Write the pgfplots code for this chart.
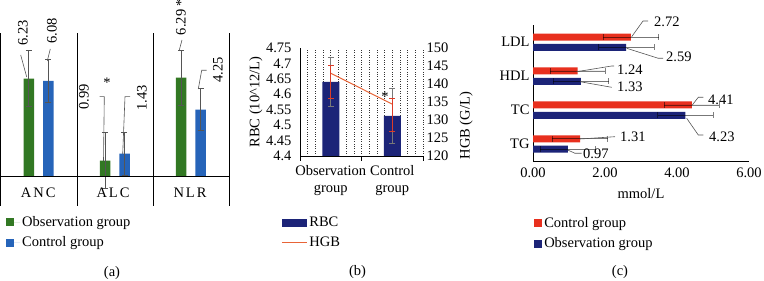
\documentclass[border=0pt]{standalone}
\usepackage{fontspec}
\setmainfont{Liberation Serif}
\usepackage{pgfplots}
\pgfplotsset{compat=1.18}
\definecolor{cgreen}{RGB}{50,120,35}
\definecolor{cblue}{RGB}{38,100,185}
\definecolor{cnavy}{RGB}{28,36,120}
\definecolor{cred}{RGB}{232,48,30}
\definecolor{corange}{RGB}{232,100,55}
\definecolor{cerr}{RGB}{220,60,40}
\definecolor{lgray}{RGB}{85,85,85}
\definecolor{mgray}{RGB}{120,120,120}
\newcommand\fs{\fontsize{14.5}{17}\selectfont}
\pgfplotsset{
  sqlegend/.style={legend image code/.code={\fill[#1] (0pt,-4pt) rectangle (8pt,4pt);}},
  sqlegendA/.style={legend image code/.code={\fill[#1] (0pt,-4pt) rectangle (8pt,4pt); \path (0pt,0pt) -- (14pt,0pt);}},
  rbcleg/.style={legend image code/.code={\fill[cnavy] (0pt,-4pt) rectangle (25pt,4pt);}},
  hgbleg/.style={legend image code/.code={\draw[corange, line width=1.2pt] (0pt,0pt) -- (25pt,0pt);}},
  every tick label/.append style={font=\fs},
  every axis label/.append style={font=\fs},
  /pgf/number format/assume math mode=true,
  ebA/.style={error bars/.cd, y dir=both, y explicit, error bar style={lgray, line width=0.9pt},
    error mark options={lgray, line width=0.9pt, mark size=3pt, rotate=90}},
  ebC/.style={error bars/.cd, x dir=both, x explicit, error bar style={black, opacity=0.5, line width=0.8pt},
    error mark options={black, opacity=0.5, line width=0.8pt, mark size=3pt, rotate=90}},
}
\begin{document}
\begin{tikzpicture}
\path[use as bounding box] (0,0) rectangle (764pt,281pt);
% ---------------- (a)
\begin{axis}[at={(0.7pt,75pt)}, anchor=south west, scale only axis, width=228.6pt, height=173pt,
  xmin=-0.5, xmax=2.5, ymin=-1.92, ymax=9.15, clip=false,
  axis line style={draw=none}, xtick={-0.5,0.5,1.5,2.5}, xticklabels={}, ytick=\empty,
  major tick length=0pt, xmajorgrids, major grid style={black, line width=0.8pt},
  ybar, bar width=10.5pt,
  legend style={at={(0.01,-0.035)}, anchor=north west, draw=none, fill=none, font=\fs, row sep=5pt},
  legend cell align=left,
]
\addplot[fill=cgreen, draw=none, bar shift=-10pt, sqlegendA=cgreen, ebA]
  coordinates {(0,6.23) +- (0,1.78) (1,0.99) +- (0,1.81) (2,6.29) +- (0,1.77)};
\addlegendentry{Observation group}
\addplot[fill=cblue, draw=none, bar shift=9.5pt, sqlegendA=cblue, ebA]
  coordinates {(0,6.08) +- (0,1.35) (1,1.43) +- (0,1.38) (2,4.25) +- (0,1.33)};
\addlegendentry{Control group}
\draw[black, line width=0.8pt] (axis cs:-0.5,0) -- (axis cs:2.5,0);
\end{axis}
% ---------------- (b)
\begin{axis}[at={(300pt,125pt)}, anchor=south west, scale only axis, width=123pt, height=108pt,
  xmin=-0.5, xmax=1.5, ymin=4.4, ymax=4.75,
  axis x line*=bottom, axis y line*=left, axis line style={-, black, line width=0.7pt},
  ytick={4.4,4.45,4.5,4.55,4.6,4.65,4.7,4.75}, ytick style={draw=none},
  yticklabel style={/pgf/number format/precision=2},
  xtick={-0.5,0.5,1.5}, xticklabels={}, tick align=outside, major tick length=5pt,
  x tick style={black, line width=0.7pt},
  minor x tick num=7, minor tick length=0pt, xminorgrids, xmajorgrids,
  major grid style={black!80, dotted, line width=0.6pt}, minor grid style={black!80, dotted, line width=0.6pt},
  extra x ticks={0,1}, extra x tick labels={Observation\\group, Control\\group},
  extra x tick style={grid=none, major tick length=0pt, xticklabel style={align=center, yshift=-6pt}},
  every axis y label/.style={at={(axis description cs:-0.358,0.5)}, anchor=center, rotate=90},
  ylabel={RBC (10\textasciicircum 12/L)},
  legend style={at={(-0.179,-0.528)}, anchor=north west, draw=none, fill=none, font=\fs, row sep=5pt},
  legend cell align=left,
]
\addplot[ybar, bar width=17pt, fill=cnavy, draw=none, bar shift=0pt, rbcleg,
  error bars/.cd, y dir=both, y explicit, error bar style={mgray, line width=0.8pt},
  error mark options={mgray, line width=0.8pt, mark size=3pt, rotate=90}]
  coordinates {(0,4.64) +- (0,0.08) (1,4.53) +- (0,0.09)};
\addlegendentry{RBC}
\addlegendimage{hgbleg}
\addlegendentry{HGB}
\end{axis}
\begin{axis}[at={(300pt,125pt)}, anchor=south west, scale only axis, width=123pt, height=108pt,
  xmin=-0.5, xmax=1.5, ymin=120, ymax=150,
  axis y line*=right, axis x line=none, axis line style={draw=none},
  ytick={120,125,130,135,140,145,150}, ytick style={draw=none},
  every axis y label/.style={at={(axis description cs:1.35,0.28)}, anchor=center, rotate=90},
  ylabel={HGB (G/L)},
]
\addplot[corange, line width=1pt, no marks,
  error bars/.cd, y dir=both, y explicit, error bar style={cerr, line width=0.8pt},
  error mark options={cerr, line width=0.8pt, mark size=3pt, rotate=90}]
  coordinates {(0,143.0) += (0,2.3) -= (0,7.0) (1,134.4) += (0,1.6) -= (0,7.6)};
\end{axis}
% ---------------- (c)
\begin{axis}[at={(533pt,120pt)}, anchor=south west, scale only axis, width=216pt, height=135.7pt,
  xmin=0, xmax=6, ymin=-0.5, ymax=3.5, clip=false,
  axis x line*=bottom, axis y line*=left, axis line style={-, black, line width=0.7pt},
  xtick={0,2,4,6}, xticklabels={0.00,2.00,4.00,6.00}, ytick={0,1,2,3}, yticklabels={TG,TC,HDL,LDL},
  major tick length=0pt, xticklabel style={yshift=-3pt},
  xlabel={mmol/L}, xlabel style={yshift=-4pt},
  xbar, bar width=7pt,
  legend style={at={(-0.009,-0.383)}, anchor=north west, draw=none, fill=none, font=\fs, row sep=5pt},
  legend cell align=left,
]
\addplot[fill=cred, draw=none, bar shift=5.2pt, sqlegend=cred, ebC]
  coordinates {(1.31,0) +- (0.77,0) (4.41,1) +- (0.77,0) (1.24,2) +- (0.77,0) (2.72,3) +- (0.77,0)};
\addlegendentry{Control group}
\addplot[fill=cnavy, draw=none, bar shift=-5.2pt, sqlegend=cnavy, ebC]
  coordinates {(0.97,0) +- (0.77,0) (4.23,1) +- (0.77,0) (1.33,2) +- (0.77,0) (2.59,3) +- (0.77,0)};
\addlegendentry{Observation group}
\end{axis}
% ---------------- annotations (pixel coordinates, y downward)
\begin{scope}[shift={(0pt,281pt)}, x=1pt, y=-1pt, font=\fs]
\tikzset{ldr/.style={draw=lgray, line width=0.6pt}}
% (a)
\node[rotate=90, inner sep=0pt] at (23,33) {6.23};
\draw[ldr] (20.7,55) -- (26.7,77);
\node[rotate=90, inner sep=0pt] at (52,31) {6.08};
\draw[ldr] (50.3,49) -- (47.3,61);
\node[rotate=90, inner sep=0pt] at (84,97) {0.99};
\draw[ldr] (99.5,96.7) -- (104.3,96.7) -- (103.5,161);
\node[inner sep=0pt] at (107,83) {*};
\node[rotate=90, inner sep=0pt] at (142,98) {1.43};
\draw[ldr] (130,96.7) -- (125,96.7) -- (122.7,154);
\node[rotate=90, inner sep=0pt] at (181,17) {6.29 *};
\draw[ldr] (182,40) -- (179.3,50);
\node[rotate=90, inner sep=0pt] at (218,70) {4.25};
\draw[ldr] (206.7,70.3) -- (201.7,70.3) -- (198.3,89);
\node at (38.3,193) {A\hspace{2pt}N\hspace{2pt}C};
\node at (113,193) {A\hspace{2pt}L\hspace{2pt}C};
\node at (190,193) {N\hspace{2pt}L\hspace{2pt}R};
\node at (112,273) {(a)};
% (b)
\node[inner sep=0pt] at (385,97) {*};
\node at (357.5,272) {(b)};
% (c)
\draw[ldr] (631.7,36.7) -- (643,21) -- (648,21);
\node[anchor=west, inner sep=0pt] at (654,22) {2.72};
\draw[ldr] (626.7,48.3) -- (658.3,58.3) -- (663,58.3);
\node[anchor=west, inner sep=0pt] at (666,57) {2.59};
\draw[ldr] (576.7,71.7) -- (611.7,66) -- (614,66);
\node[anchor=west, inner sep=0pt] at (617,70) {1.24};
\draw[ldr] (580,81.7) -- (611.7,87.3);
\node[anchor=west, inner sep=0pt] at (617,87) {1.33};
\draw[ldr] (692.3,105) -- (698.3,97.3) -- (703.3,97.3);
\node[anchor=west, inner sep=0pt] at (708,100) {4.41};
\draw[ldr] (686.7,118.3) -- (698.3,135) -- (703.3,135);
\node[anchor=west, inner sep=0pt] at (709,137) {4.23};
\draw[ldr] (580,139) -- (615,136.7);
\node[anchor=west, inner sep=0pt] at (620,137) {1.31};
\draw[ldr] (567.7,150) -- (575,153.3) -- (581.7,153.3);
\node[anchor=west, inner sep=0pt] at (583,154) {0.97};
\node at (620,272) {(c)};
\end{scope}
\end{tikzpicture}
\end{document}
